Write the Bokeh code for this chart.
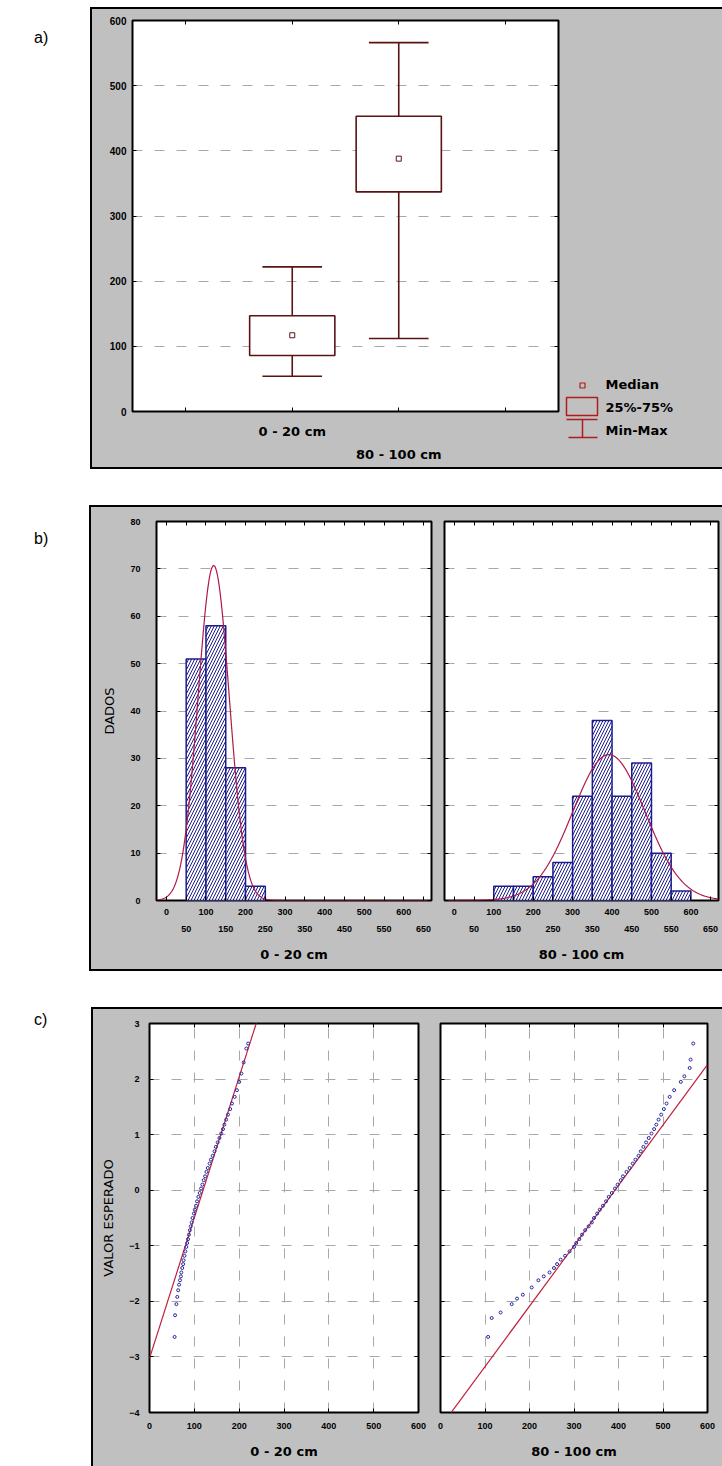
import numpy as np
from bokeh.plotting import figure
from bokeh.layouts import row, column
from bokeh.models import Range1d, LinearAxis, FixedTicker, Div
from bokeh.embed import file_html
from bokeh.resources import INLINE
from bokeh.core.properties import value

# ---------------- data ----------------
# a) box plot
box_categories = ["0 - 20 cm", "80 - 100 cm"]
box_positions = [1.5, 2.5]
box_min = [54, 112]
box_q1 = [86, 337]
box_median = [117, 388]
box_q3 = [147, 453]
box_max = [222, 566]
box_yticks = [0, 100, 200, 300, 400, 500, 600]
box_xticks = [0.5, 1.5, 2.5, 3.5]
legend_labels = ["Median", "25%-75%", "Min-Max"]

# b) histograms
depth_titles = ["0 - 20 cm", "80 - 100 cm"]
hist_left_edges = [50, 100, 150, 200, 250]
hist_left_counts = [51, 58, 28, 3]
hist_right_edges = [100, 150, 200, 250, 300, 350, 400, 450, 500, 550, 600]
hist_right_counts = [3, 3, 5, 8, 22, 38, 22, 29, 10, 2]
bin_width = 50
fit_mean = [119.5, 392.0]
fit_sd = [39.5, 92.0]
n_obs = [140, 142]
hist_xticks = [0, 50, 100, 150, 200, 250, 300, 350, 400, 450, 500, 550, 600, 650]
hist_xticks_row2 = [50, 150, 250, 350, 450, 550, 650]
hist_yticks = [0, 10, 20, 30, 40, 50, 60, 70, 80]

# c) normal probability plots (observed value, expected normal value)
qq_left_observed = [56, 57, 60, 62, 64, 66, 68, 70, 71, 73, 75, 76, 78, 80, 82,
                    84, 86, 88, 90, 92, 94, 96, 99, 101, 104, 106, 109, 112, 115, 118,
                    121, 124, 127, 130, 134, 137, 141, 145, 148, 152, 156, 160, 164, 167, 171,
                    175, 180, 184, 190, 195, 200, 205, 210, 216, 220]
qq_left_expected = [-2.64, -2.25, -2.05, -1.92, -1.80, -1.70, -1.62, -1.55, -1.48, -1.40,
                    -1.33, -1.26, -1.18, -1.10, -1.02, -0.95, -0.88, -0.80, -0.72, -0.65,
                    -0.58, -0.50, -0.42, -0.35, -0.28, -0.20, -0.12, -0.05, 0.03, 0.10,
                    0.18, 0.25, 0.33, 0.40, 0.48, 0.55, 0.62, 0.70, 0.78, 0.86,
                    0.94, 1.02, 1.10, 1.18, 1.27, 1.36, 1.46, 1.56, 1.68, 1.80,
                    1.95, 2.10, 2.30, 2.55, 2.64]
qq_right_observed = [107, 115, 135, 160, 172, 185, 205, 220, 232, 245, 255, 262, 270, 280, 290,
                     300, 305, 312, 318, 325, 333, 340, 345, 352, 358, 365, 372, 378, 385, 392,
                     398, 405, 410, 418, 425, 432, 438, 445, 450, 456, 462, 468, 474, 480, 485,
                     490, 496, 502, 508, 515, 525, 540, 548, 560, 562, 568]
qq_right_expected = [-2.64, -2.30, -2.20, -2.05, -1.95, -1.88, -1.75, -1.62, -1.55, -1.48,
                     -1.40, -1.33, -1.25, -1.18, -1.10, -1.02, -0.95, -0.88, -0.80, -0.72,
                     -0.65, -0.58, -0.50, -0.42, -0.35, -0.28, -0.20, -0.12, -0.05, 0.03,
                     0.10, 0.18, 0.25, 0.33, 0.40, 0.48, 0.55, 0.62, 0.70, 0.78,
                     0.86, 0.94, 1.02, 1.10, 1.18, 1.27, 1.36, 1.46, 1.56, 1.68,
                     1.80, 1.95, 2.05, 2.20, 2.35, 2.64]
qq_xticks = [0, 100, 200, 300, 400, 500, 600]
qq_yticks = [-4, -3, -2, -1, 0, 1, 2, 3]
panel_tags = ["a)", "b)", "c)"]

# ---------------- style ----------------
GREY = "#c0c0c0"
BOXC = "#5a1414"
LEGC = "#b01c1c"
NAVY = "#1c1c8c"
CURVE = "#b01848"
QQLINE = "#c0203c"
QQPT = "#28289c"
GRIDC = "#a8a8a8"
TICKFONT = "Liberation Sans"
TITLEFONT = "DejaVu Sans"


def make_fig(width, height, xr, yr, mbl, mbr, mbt, mbb):
    p = figure(width=width, height=height, x_range=Range1d(*xr), y_range=Range1d(*yr),
               output_backend="svg", toolbar_location=None,
               min_border_left=mbl, min_border_right=mbr,
               min_border_top=mbt, min_border_bottom=mbb,
               background_fill_color="white", border_fill_color=GREY,
               outline_line_color="black", outline_line_width=2)
    return p


def style_axis(ax, ticks, font_size="9px", labels=True, tick_len=4, overrides=None, standoff=6):
    ax.ticker = FixedTicker(ticks=ticks)
    ax.axis_line_color = None
    ax.major_tick_in = tick_len
    ax.major_tick_out = 0
    ax.major_tick_line_color = "black" if tick_len > 0 else None
    ax.minor_tick_line_color = None
    ax.major_label_text_font = TICKFONT
    ax.major_label_text_font_style = "bold"
    ax.major_label_text_color = "black"
    ax.major_label_standoff = standoff
    if labels:
        ax.major_label_text_font_size = font_size
        if overrides:
            ax.major_label_overrides = overrides
    else:
        ax.major_label_text_font_size = "1px"
        ax.major_label_standoff = 0
        ax.major_label_overrides = {t: "" for t in ticks}


def tick_axis(p, side, ticks):
    ax = LinearAxis()
    style_axis(ax, ticks, labels=False)
    p.add_layout(ax, side)


def title_style(ax, text, standoff, size="13px", bold=True):
    ax.axis_label = text
    ax.axis_label_text_font = TITLEFONT
    ax.axis_label_text_font_style = "bold" if bold else "normal"
    ax.axis_label_text_font_size = size
    ax.axis_label_text_color = "black"
    ax.axis_label_standoff = standoff


def tag_div(txt, w, h, top):
    return Div(text=f'<div style="padding:{top}px 0 0 34px;font-size:16px;'
                    f'font-family:\'Liberation Sans\',Arial;color:#000">{txt}</div>',
               width=w, height=h, margin=0)


def panel_row(children, w, h):
    return row(*children, width=w, height=h, margin=0,
               styles={"box-shadow": "0 0 0 2px #000", "background-color": GREY})


# ---------------- a) box plot ----------------
pa = make_fig(468, 458, (0, 4), (0, 600), 40, 2, 11, 56)
style_axis(pa.yaxis[0], box_yticks, font_size="10px", standoff=6)
pa.ygrid.ticker = FixedTicker(ticks=box_yticks)
pa.ygrid.grid_line_color = GRIDC
pa.ygrid.grid_line_dash = "10 12"
pa.xgrid.visible = False
style_axis(pa.xaxis[0], box_xticks, font_size="13px", standoff=12,
           overrides={t: "" for t in box_xticks} | {box_positions[0]: box_categories[0]})
pa.xaxis[0].major_label_text_font = TITLEFONT
ax2 = LinearAxis()
style_axis(ax2, [box_positions[1]], font_size="13px", tick_len=0, standoff=5,
           overrides={box_positions[1]: box_categories[1]})
ax2.major_label_text_font = TITLEFONT
pa.add_layout(ax2, "below")
tick_axis(pa, "above", box_xticks)
tick_axis(pa, "right", box_yticks)

cap_half = 0.28
pa.segment(x0=box_positions, y0=box_min, x1=box_positions, y1=box_q1, line_color=BOXC, line_width=1.6)
pa.segment(x0=box_positions, y0=box_q3, x1=box_positions, y1=box_max, line_color=BOXC, line_width=1.6)
pa.segment(x0=[x - cap_half for x in box_positions], y0=box_min,
           x1=[x + cap_half for x in box_positions], y1=box_min, line_color=BOXC, line_width=1.6)
pa.segment(x0=[x - cap_half for x in box_positions], y0=box_max,
           x1=[x + cap_half for x in box_positions], y1=box_max, line_color=BOXC, line_width=1.6)
pa.vbar(x=box_positions, bottom=box_q1, top=box_q3, width=0.8,
        fill_color="white", line_color=BOXC, line_width=1.6)
pa.scatter(x=box_positions, y=box_median, marker="square", size=5,
           fill_color=None, line_color=BOXC, line_width=1)

# legend panel (own small canvas, pixel-like coordinates), wrapped in a column
# so that its frame is not aligned with the box-plot frame
pl = figure(width=162, height=458, x_range=Range1d(0, 162), y_range=Range1d(458, 0),
            output_backend="svg", toolbar_location=None, x_axis_type=None, y_axis_type=None,
            min_border_left=0, min_border_right=0, min_border_top=0, min_border_bottom=0,
            background_fill_color=GREY, border_fill_color=GREY, outline_line_color=None)
pl.grid.visible = False
pl.scatter(x=[22], y=[376], marker="square", size=5, fill_color=None, line_color=LEGC, line_width=1.2)
pl.quad(left=[6], right=[37], top=[388], bottom=[406], fill_color=None, line_color=LEGC, line_width=1.5)
pl.segment(x0=[6, 22, 8], y0=[410, 410, 428], x1=[37, 22, 37], y1=[410, 428, 428],
           line_color=LEGC, line_width=1.5)
pl.text(x=[45, 45, 45], y=[375, 398, 421], text=legend_labels,
        text_font=value(TITLEFONT), text_font_style="bold", text_font_size="13px",
        text_baseline="middle", text_align="left", text_color="black")
pl_box = column(pl, width=162, height=458, margin=0)

row_a = row(tag_div(panel_tags[0], 92, 458, 18), panel_row([pa, pl_box], 630, 458),
            margin=(9, 0, 0, 0))


# ---------------- b) histograms ----------------
def hist_fig(width, mbl, mbr, edges, counts, mean, sd, n, title, ylabels):
    p = make_fig(width, 462, (-25, 670), (0, 80), mbl, mbr, 14, 69)
    style_axis(p.yaxis[0], hist_yticks, labels=ylabels, standoff=16)
    if ylabels:
        title_style(p.yaxis[0], "DADOS", 10, bold=False)
    p.ygrid.ticker = FixedTicker(ticks=hist_yticks)
    p.ygrid.grid_line_color = GRIDC
    p.ygrid.grid_line_dash = "10 12"
    p.xgrid.visible = False
    style_axis(p.xaxis[0], hist_xticks, standoff=8,
               overrides={t: ("" if t % 100 else str(t)) for t in hist_xticks})
    a2 = LinearAxis()
    style_axis(a2, hist_xticks_row2, tick_len=0, standoff=8)
    title_style(a2, title, 12)
    p.add_layout(a2, "below")
    tick_axis(p, "above", hist_xticks)
    tick_axis(p, "right", hist_yticks)
    p.quad(left=edges[:-1], right=edges[1:], bottom=0, top=counts,
           fill_color="white", line_color=NAVY, line_width=1.5,
           hatch_pattern="/", hatch_color=NAVY, hatch_scale=6, hatch_weight=1)
    xs = np.linspace(-25, 670, 400)
    ys = n * bin_width / (sd * np.sqrt(2 * np.pi)) * np.exp(-0.5 * ((xs - mean) / sd) ** 2)
    p.line(xs, ys, line_color=CURVE, line_width=1.2)
    return p


pb1 = hist_fig(346, 65, 6, hist_left_edges, hist_left_counts, fit_mean[0], fit_sd[0], n_obs[0],
               depth_titles[0], True)
pb2 = hist_fig(285, 7, 4, hist_right_edges, hist_right_counts, fit_mean[1], fit_sd[1], n_obs[1],
               depth_titles[1], False)
row_b = row(tag_div(panel_tags[1], 91, 462, 21), panel_row([pb1, pb2], 631, 462),
            margin=(40, 0, 0, 0))


# ---------------- c) normal probability plots ----------------
def qq_fig(width, mbl, mbr, obs, exp, mean, sd, title, ylabels):
    p = make_fig(width, 457, (0, 600), (-4, 3), mbl, mbr, 14, 54)
    style_axis(p.yaxis[0], qq_yticks, labels=ylabels, standoff=10)
    if ylabels:
        title_style(p.yaxis[0], "VALOR ESPERADO", 10, bold=False)
    style_axis(p.xaxis[0], qq_xticks, standoff=10)
    title_style(p.xaxis[0], title, 12)
    for g, t in ((p.xgrid, qq_xticks), (p.ygrid, qq_yticks)):
        g.ticker = FixedTicker(ticks=t)
        g.grid_line_color = GRIDC
        g.grid_line_dash = "10 12"
    tick_axis(p, "above", qq_xticks)
    tick_axis(p, "right", qq_yticks)
    lx = np.array([0.0, 600.0])
    p.line(lx, (lx - mean) / sd, line_color=QQLINE, line_width=1.2)
    p.scatter(obs, exp, marker="circle", size=3, fill_color=None,
              line_color=QQPT, line_width=1)
    return p


pc1 = qq_fig(336, 56, 11, qq_left_observed, qq_left_expected, fit_mean[0], fit_sd[0],
             depth_titles[0], True)
pc2 = qq_fig(293, 11, 15, qq_right_observed, qq_right_expected, fit_mean[1], fit_sd[1],
             depth_titles[1], False)
row_c = row(tag_div(panel_tags[2], 93, 457, 0), panel_row([pc1, pc2], 629, 457),
            margin=(40, 0, 0, 0))

page = column(row_a, row_b, row_c, margin=0, spacing=0)
open("out.html", "w").write(file_html(page, INLINE))
